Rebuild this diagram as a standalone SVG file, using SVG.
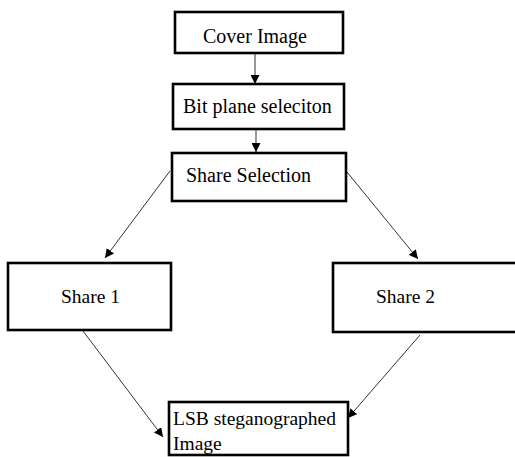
<svg xmlns="http://www.w3.org/2000/svg" width="515" height="457" viewBox="0 0 515 457">
<style>
.box{fill:#fff;stroke:#000;stroke-width:2.6}
.t{font-family:"Liberation Serif","Times New Roman",serif;font-size:20px;fill:#000}
.s{font-size:19.5px}
.c{stroke:#333;stroke-width:1;fill:none;marker-end:url(#ah)}
</style>
<defs>
<marker id="ah" viewBox="0 0 10 10" refX="10" refY="5" markerWidth="9" markerHeight="9" markerUnits="userSpaceOnUse" orient="auto">
<path d="M0,0 L10,5 L0,10 Z" fill="#000"/>
</marker>
</defs>
<rect width="515" height="457" fill="#fff"/>
<g id="connectors">
<line class="c" x1="255" y1="54" x2="255" y2="84"/>
<line class="c" x1="256" y1="130" x2="256" y2="152"/>
<line class="c" x1="170" y1="171" x2="105" y2="258"/>
<line class="c" x1="347" y1="172" x2="418" y2="259"/>
<line class="c" x1="83" y1="331" x2="163" y2="437"/>
<line class="c" x1="420" y1="335" x2="348" y2="418"/>
</g>
<g id="cover">
<rect class="box" x="175" y="12" width="168" height="41"/>
<text class="t" x="203" y="43">Cover Image</text>
</g>
<g id="bitplane">
<rect class="box" x="173" y="84" width="171" height="45"/>
<text class="t" x="183" y="113">Bit plane seleciton</text>
</g>
<g id="shareselection">
<rect class="box" x="172" y="153" width="174" height="48"/>
<text class="t" x="186" y="182">Share Selection</text>
</g>
<g id="share1">
<rect class="box" x="8" y="263" width="163" height="67"/>
<text class="t s" x="61" y="303">Share 1</text>
</g>
<g id="share2">
<rect class="box" x="333" y="263" width="186" height="69"/>
<text class="t s" x="376" y="303">Share 2</text>
</g>
<g id="lsb">
<rect class="box" x="169" y="402" width="179" height="53"/>
<text class="t s" x="173" y="425">LSB steganographed</text>
<text class="t s" x="173" y="450">Image</text>
</g>
</svg>
